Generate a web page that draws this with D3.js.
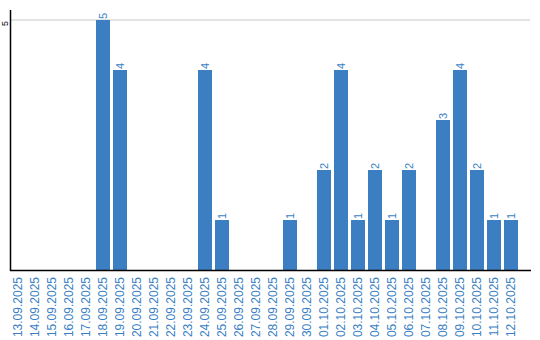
<!DOCTYPE html>
<html>
<head>
<meta charset="utf-8">
<script src="https://cdn.jsdelivr.net/npm/d3@7"></script>
<style>
  body { margin: 0; background: #fff; }
  text { font-family: "Liberation Sans", Arial, sans-serif; }
</style>
</head>
<body>
<svg id="chart"></svg>
<script>
// data ////////////////////////////////////////////////////////////////
var dates = ["13.09.2025", "14.09.2025", "15.09.2025", "16.09.2025", "17.09.2025",
    "18.09.2025", "19.09.2025", "20.09.2025", "21.09.2025", "22.09.2025",
    "23.09.2025", "24.09.2025", "25.09.2025", "26.09.2025", "27.09.2025",
    "28.09.2025", "29.09.2025", "30.09.2025", "01.10.2025", "02.10.2025",
    "03.10.2025", "04.10.2025", "05.10.2025", "06.10.2025", "07.10.2025",
    "08.10.2025", "09.10.2025", "10.10.2025", "11.10.2025", "12.10.2025"];
var counts = [0, 0, 0, 0, 0, 5, 4, 0, 0, 0, 0, 4, 1, 0, 0, 0, 1, 0, 2, 4,
    1, 2, 1, 2, 0, 3, 4, 2, 1, 1];
var yTicks = [5];

var WIDTH = 540, HEIGHT = 340;
var BLUE = "#3b7ec2";
var TEXT_BLUE = "#3a7fc4";

var svg = d3.select("#chart").attr("width", WIDTH).attr("height", HEIGHT);

// scales
var x = d3.scaleBand().domain(dates).range([11, 518]).paddingInner(3 / 17).paddingOuter(0);
var y = d3.scaleLinear().domain([0, 5]).range([270, 20]);

// gridline
svg.append("g")
    .selectAll("line")
    .data(yTicks)
    .enter().append("line")
    .attr("x1", 11).attr("x2", 530)
    .attr("y1", d => y(d)).attr("y2", d => y(d))
    .attr("stroke", "#c8c8c8")
    .attr("stroke-width", 1);

var rows = counts.map((v, i) => ({ date: dates[i], value: v })).filter(d => d.value > 0);

// bars
svg.append("g")
    .selectAll("rect")
    .data(rows)
    .enter().append("rect")
    .attr("x", d => x(d.date))
    .attr("y", d => y(d.value))
    .attr("width", x.bandwidth())
    .attr("height", d => y(0) - y(d.value))
    .attr("fill", BLUE);

// value labels
svg.append("g")
    .selectAll("text")
    .data(rows)
    .enter().append("text")
    .attr("transform", d => "translate(" + (x(d.date) + x.bandwidth() / 2 + 4) + "," + (y(d.value) - 1) + ") rotate(-90)")
    .attr("fill", TEXT_BLUE)
    .attr("font-size", "11px")
    .text(d => d.value);

// x axis
var xAxis = svg.append("g")
    .attr("transform", "translate(0,270)")
    .call(d3.axisBottom(x).tickSize(0).tickPadding(0));
xAxis.select(".domain").remove();
xAxis.selectAll("text")
    .attr("fill", TEXT_BLUE)
    .attr("font-size", "12px")
    .attr("text-anchor", "end")
    .attr("dy", "0.35em")
    .attr("transform", "translate(0,7) rotate(-90)")
    .attr("y", 0)
    .attr("x", 0);

svg.append("line")
    .attr("x1", 10).attr("x2", 531)
    .attr("y1", 270.5).attr("y2", 270.5)
    .attr("stroke", "#000").attr("stroke-width", 1.5);

// y axis
svg.append("line")
    .attr("x1", 10.5).attr("x2", 10.5)
    .attr("y1", 10).attr("y2", 271)
    .attr("stroke", "#000").attr("stroke-width", 1.5);

svg.append("g")
    .selectAll("text")
    .data(yTicks)
    .enter().append("text")
    .attr("transform", d => "translate(8," + (y(d) + 6) + ") rotate(-90)")
    .attr("fill", "#000")
    .attr("font-size", "9px")
    .text(d => d);
</script>
</body>
</html>
